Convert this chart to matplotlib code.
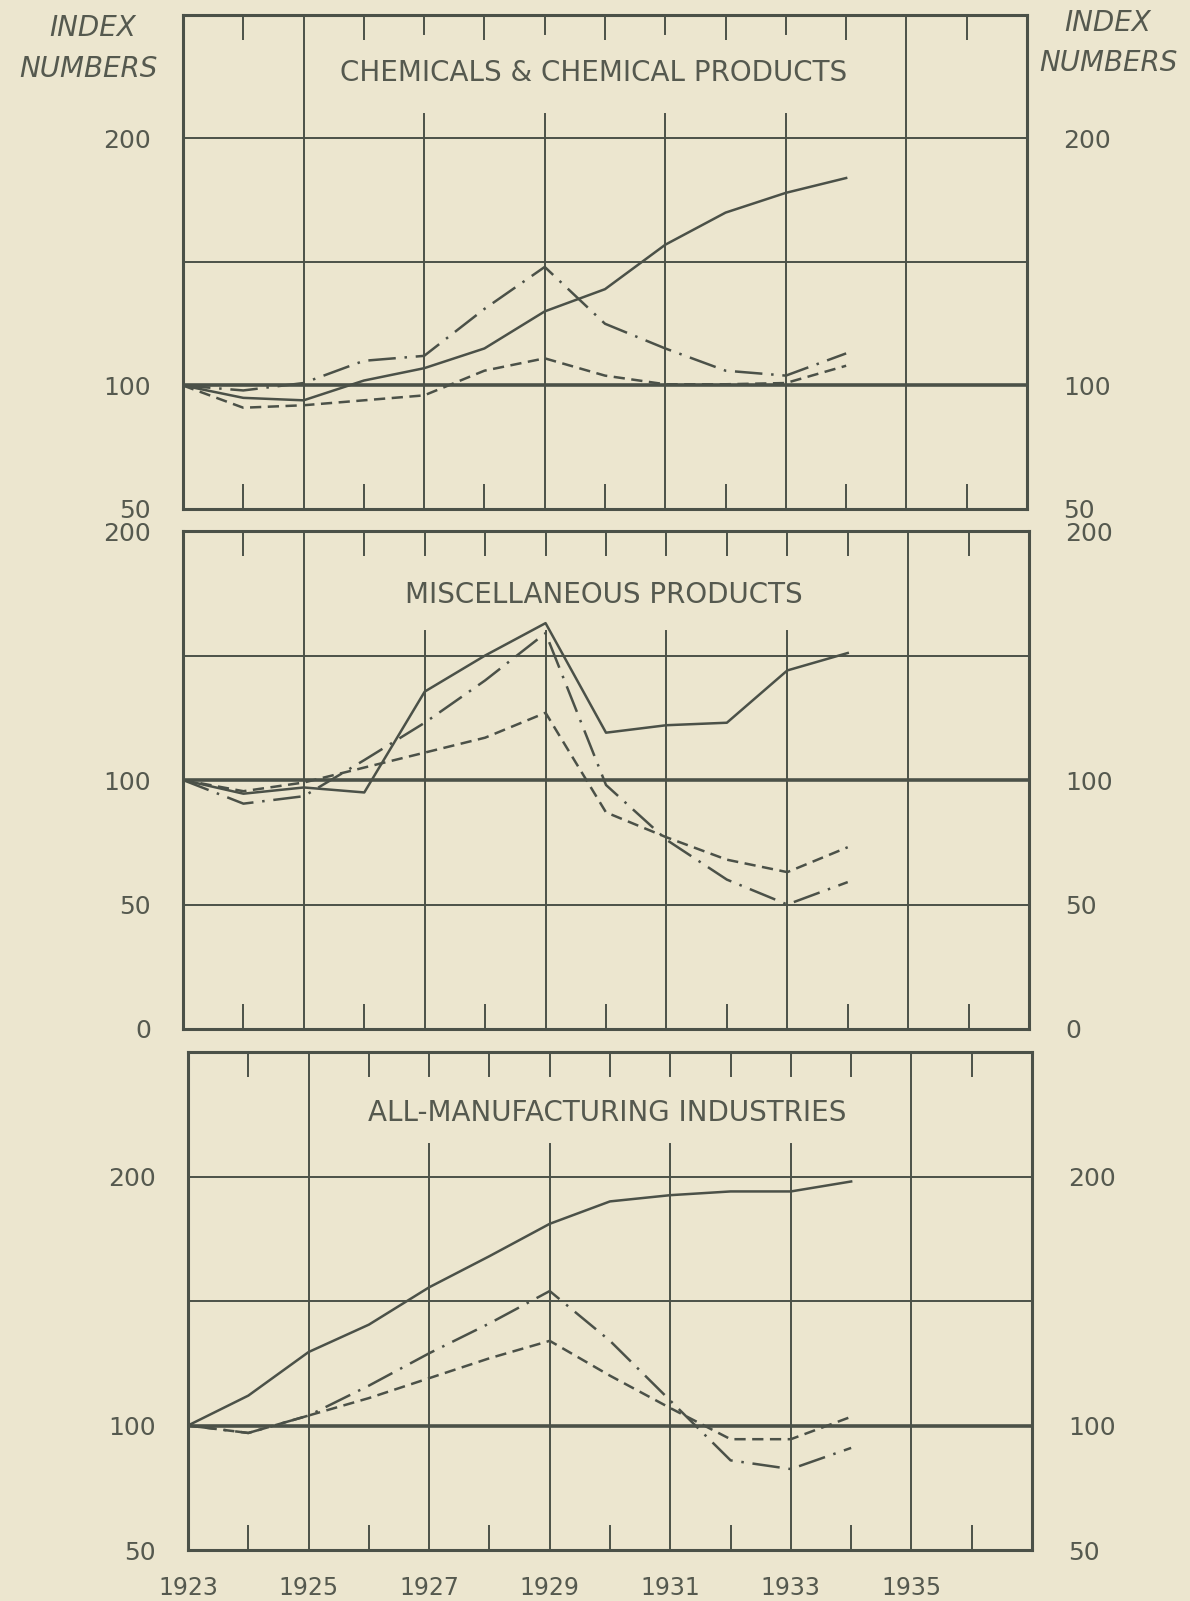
import matplotlib
matplotlib.use("Agg")
import matplotlib.pyplot as plt

# ---------------- data ----------------
years = [1923, 1924, 1925, 1926, 1927, 1928, 1929, 1930, 1931, 1932, 1933, 1934]

chem_solid = [100, 95, 94, 102, 107, 115, 130, 139, 157, 170, 178, 184]
chem_dashdot = [100, 98, 101, 110, 112, 131, 148, 125, 115, 106, 104, 113]
chem_dashed = [100, 91, 92, 94, 96, 106, 111, 104, 100.5, 100.5, 101, 108]

misc_solid = [100, 94.5, 97, 95, 135.5, 150, 163, 119, 122, 123, 144, 151]
misc_dashdot = [100, 90.5, 93.5, 108, 123, 140, 159, 98, 76, 60, 50, 59]
misc_dashed = [100, 95.5, 99, 105, 111, 117, 127, 87, 77, 68, 63, 73]

mfg_solid = [100, 112, 129.5, 140.5, 155.5, 168, 181, 190, 192.5, 194, 194, 198]
mfg_dashdot = [100, 97, 104, 116, 129, 141, 154, 134, 110, 86, 82.5, 91]
mfg_dashed = [100, 97, 104, 111, 119, 127, 134, 120, 107, 94.5, 94.5, 103.5]

titles = ["CHEMICALS & CHEMICAL PRODUCTS",
          "MISCELLANEOUS PRODUCTS",
          "ALL-MANUFACTURING INDUSTRIES"]
ylims = [(50, 250), (0, 200), (50, 250)]
ytick_vals = [[50, 100, 200], [0, 50, 100, 200], [50, 100, 200]]
hgrid_vals = [[150, 200], [50, 150], [150, 200]]
year_labels = [1923, 1925, 1927, 1929, 1931, 1933, 1935]
even_years = [1924, 1926, 1928, 1930, 1932, 1934, 1936]
broken_grid = [1927, 1929, 1931, 1933]
full_grid = [1925, 1935]

series = [(chem_solid, chem_dashdot, chem_dashed),
          (misc_solid, misc_dashdot, misc_dashed),
          (mfg_solid, mfg_dashdot, mfg_dashed)]

# ---------------- style ----------------
BG = "#ECE6CF"
LC = "#4B5148"
TC = "#55594F"
W, H = 1190, 1601

# panel boxes in pixels: left, right, top, bottom
boxes = [(183, 1027, 15, 509), (183, 1029, 531, 1029), (188, 1032, 1052, 1550)]
gaps = [(0.80, 0.962), (0.80, 0.952), (0.815, 0.952)]
title_pos = [(0.487, 0.882), (0.497, 0.871), (0.497, 0.877)]

fig = plt.figure(figsize=(W / 100, H / 100), dpi=100)
fig.patch.set_facecolor(BG)

FONT = "DejaVu Sans"

for i in range(3):
    l, r, t, b = boxes[i]
    ax = fig.add_axes([l / W, 1 - b / H, (r - l) / W, (b - t) / H])
    ax.set_facecolor(BG)
    ax.set_xlim(1923, 1937)
    ax.set_ylim(*ylims[i])
    for sp in ax.spines.values():
        sp.set_linewidth(2.2)
        sp.set_color(LC)

    # grid
    for x in full_grid:
        ax.axvline(x, color=LC, lw=1.4, zorder=1)
    g_lo, g_hi = gaps[i]
    for x in broken_grid:
        ax.axvline(x, ymin=0, ymax=g_lo, color=LC, lw=1.4, zorder=1)
        ax.axvline(x, ymin=g_hi, ymax=1, color=LC, lw=1.4, zorder=1)
    for yv in hgrid_vals[i]:
        ax.axhline(yv, color=LC, lw=1.4, zorder=1)
    ax.axhline(100, color=LC, lw=2.6, zorder=1)

    # ticks
    ax.set_xticks(year_labels)
    ax.set_xticks(even_years, minor=True)
    ax.tick_params(axis="x", which="major", length=0, pad=19,
                   labelsize=17, labelcolor=TC, labelbottom=(i == 2))
    ax.tick_params(axis="x", which="minor", direction="in", top=True, bottom=True,
                   length=18, width=1.4, color=LC)
    if i == 2:
        ax.set_xticklabels([str(y) for y in year_labels], fontfamily=FONT)
    ax.set_yticks(ytick_vals[i])
    ax.set_yticklabels([str(v) for v in ytick_vals[i]], fontfamily=FONT)
    ax.tick_params(axis="y", length=0, pad=23, labelsize=18, labelcolor=TC,
                   left=True, right=False, labelleft=True, labelright=False)

    sec = ax.secondary_yaxis("right")
    sec.spines["right"].set_visible(False)
    sec.set_yticks(ytick_vals[i])
    sec.set_yticklabels([str(v) for v in ytick_vals[i]], fontfamily=FONT)
    sec.tick_params(axis="y", length=0, pad=26, labelsize=18, labelcolor=TC)

    s, dd, ds = series[i]
    ax.plot(years, s, color=LC, lw=1.8, zorder=3)
    ax.plot(years, dd, color=LC, lw=1.8, linestyle=(0, (11, 3.5, 1, 3.5)), zorder=3)
    ax.plot(years, ds, color=LC, lw=1.8, linestyle=(0, (4.5, 2.6)), zorder=3)

    tx, ty = title_pos[i]
    ax.text(tx, ty, titles[i], transform=ax.transAxes, ha="center", va="center",
            fontsize=20, color=TC, fontfamily=FONT, zorder=4,
            bbox=dict(facecolor=BG, edgecolor="none", pad=2))

# INDEX NUMBERS labels
for (x, y, s) in [(93, 28, "INDEX"), (88, 69, "NUMBERS"),
                  (1108, 23, "INDEX"), (1108, 63, "NUMBERS")]:
    fig.text(x / W, 1 - y / H, s, ha="center", va="center", fontsize=20,
             style="italic", color=TC, fontfamily=FONT)

fig.savefig("out.png", dpi=100, facecolor=BG)
